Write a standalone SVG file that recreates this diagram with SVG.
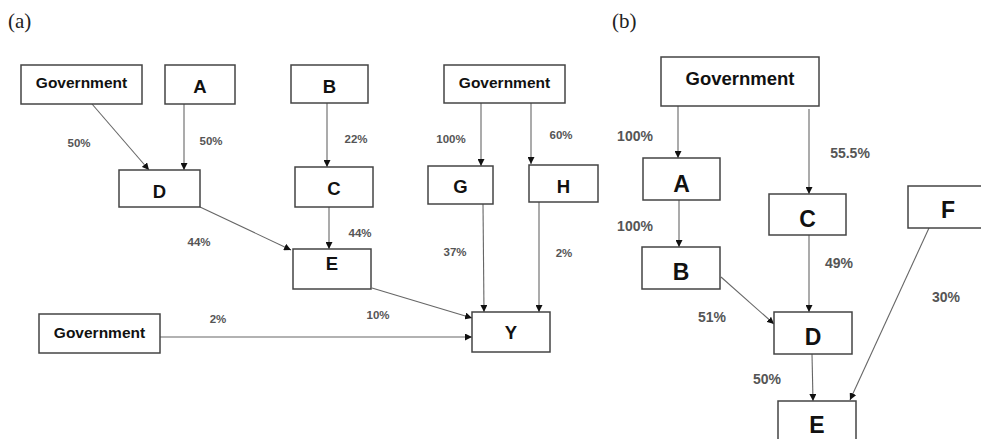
<svg xmlns="http://www.w3.org/2000/svg" width="981" height="439" viewBox="0 0 981 439">
<style>
.box{fill:#fff;stroke:#444;stroke-width:1.5}
.lbl{font-family:"Liberation Sans",Arial,sans-serif;font-weight:bold;fill:#111;text-anchor:middle}
.ga{font-size:15.5px}
.la{font-size:18.5px}
.gb{font-size:18.5px}
.lb{font-size:23px}
.pa{font-family:"Liberation Sans",Arial,sans-serif;font-weight:bold;font-size:11.5px;fill:#555;text-anchor:middle}
.pb{font-family:"Liberation Sans",Arial,sans-serif;font-weight:bold;font-size:14px;fill:#555;text-anchor:middle}
.cap{font-family:"Liberation Serif","Times New Roman",serif;font-size:21px;fill:#222}
.ln{fill:none;stroke:#666;stroke-width:1.1;marker-end:url(#ah)}
</style>
<defs>
<marker id="ah" viewBox="0 0 10 10" refX="10" refY="5" markerWidth="7" markerHeight="7" markerUnits="userSpaceOnUse" orient="auto">
<path d="M0,0 L10,5 L0,10 z" fill="#111"/>
</marker>
</defs>
<text class="cap" x="8" y="28">(a)</text>
<text class="cap" x="612" y="28">(b)</text>

<g id="connectors">
<line class="ln" x1="92" y1="104" x2="149" y2="170"/>
<line class="ln" x1="184" y1="104" x2="184" y2="170"/>
<line class="ln" x1="327" y1="103" x2="327" y2="167"/>
<line class="ln" x1="329" y1="207" x2="329" y2="249"/>
<line class="ln" x1="200" y1="207" x2="291" y2="250"/>
<line class="ln" x1="481" y1="103" x2="481" y2="166"/>
<line class="ln" x1="531" y1="103" x2="531" y2="164"/>
<line class="ln" x1="483" y1="204" x2="484" y2="312"/>
<line class="ln" x1="539" y1="202" x2="539" y2="312"/>
<line class="ln" x1="372" y1="288" x2="472" y2="318"/>
<line class="ln" x1="160" y1="337" x2="472" y2="337"/>
<line class="ln" x1="678" y1="106" x2="678" y2="158"/>
<line class="ln" x1="809" y1="109" x2="809" y2="194"/>
<line class="ln" x1="679" y1="200" x2="679" y2="247"/>
<line class="ln" x1="721" y1="277" x2="774" y2="324"/>
<line class="ln" x1="809" y1="235" x2="809" y2="312"/>
<line class="ln" x1="812" y1="354" x2="813" y2="401"/>
<line class="ln" x1="929" y1="228" x2="850" y2="400"/>
</g>

<g id="labels">
<text class="pa" x="79" y="147">50%</text>
<text class="pa" x="211" y="145">50%</text>
<text class="pa" x="356" y="143">22%</text>
<text class="pa" x="360" y="237">44%</text>
<text class="pa" x="199" y="246">44%</text>
<text class="pa" x="451" y="143">100%</text>
<text class="pa" x="561" y="139">60%</text>
<text class="pa" x="455" y="256">37%</text>
<text class="pa" x="564" y="257">2%</text>
<text class="pa" x="378" y="319">10%</text>
<text class="pa" x="218" y="323">2%</text>
<text class="pb" x="635" y="141">100%</text>
<text class="pb" x="635" y="231">100%</text>
<text class="pb" x="850" y="158">55.5%</text>
<text class="pb" x="839" y="268">49%</text>
<text class="pb" x="712" y="322">51%</text>
<text class="pb" x="767" y="384">50%</text>
<text class="pb" x="946" y="302">30%</text>
</g>

<g id="a-gov1"><rect class="box" x="21" y="65" width="121" height="39"/><text class="lbl ga" x="81.5" y="88">Government</text></g>
<g id="a-A"><rect class="box" x="165" y="65" width="70" height="39"/><text class="lbl la" x="200" y="93">A</text></g>
<g id="a-B"><rect class="box" x="291" y="65" width="77" height="38"/><text class="lbl la" x="329.5" y="93">B</text></g>
<g id="a-gov2"><rect class="box" x="444" y="65" width="121" height="38"/><text class="lbl ga" x="504.5" y="88">Government</text></g>
<g id="a-D"><rect class="box" x="119" y="170" width="81" height="37"/><text class="lbl la" x="159.5" y="198">D</text></g>
<g id="a-C"><rect class="box" x="295" y="167" width="78" height="40"/><text class="lbl la" x="334" y="195">C</text></g>
<g id="a-G"><rect class="box" x="428" y="166" width="65" height="38"/><text class="lbl la" x="460.5" y="193">G</text></g>
<g id="a-H"><rect class="box" x="529" y="165" width="69" height="37"/><text class="lbl la" x="563.5" y="193">H</text></g>
<g id="a-E"><rect class="box" x="293" y="249" width="78" height="40"/><text class="lbl la" x="332" y="270">E</text></g>
<g id="a-gov3"><rect class="box" x="39" y="314" width="121" height="39"/><text class="lbl ga" x="99.5" y="338">Government</text></g>
<g id="a-Y"><rect class="box" x="472" y="312" width="78" height="40"/><text class="lbl la" x="511" y="339">Y</text></g>

<g id="b-gov"><rect class="box" x="661" y="57" width="158" height="49"/><text class="lbl gb" x="740" y="85">Government</text></g>
<g id="b-A"><rect class="box" x="643" y="158" width="77" height="42"/><text class="lbl lb" x="681.5" y="192">A</text></g>
<g id="b-C"><rect class="box" x="769" y="194" width="77" height="41"/><text class="lbl lb" x="807.5" y="227">C</text></g>
<g id="b-F"><rect class="box" x="908" y="186" width="80" height="42"/><text class="lbl lb" x="948" y="218">F</text></g>
<g id="b-B"><rect class="box" x="642" y="247" width="78" height="42"/><text class="lbl lb" x="681" y="280">B</text></g>
<g id="b-D"><rect class="box" x="774" y="312" width="78" height="42"/><text class="lbl lb" x="813" y="345">D</text></g>
<g id="b-E"><rect class="box" x="778" y="401" width="78" height="50"/><text class="lbl lb" x="817" y="433">E</text></g>
</svg>
